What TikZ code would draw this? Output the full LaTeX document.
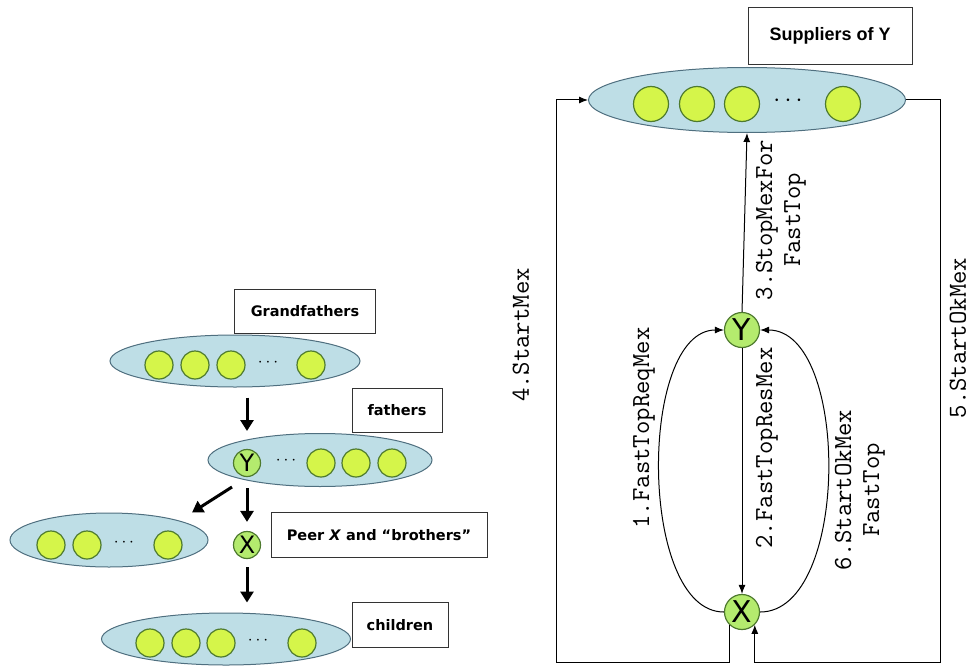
\documentclass[tikz,border=0pt]{standalone}
\usepackage{fontspec}
\usetikzlibrary{shapes.geometric,arrows.meta,calc}
\newfontfamily\boxfont{DejaVu Sans}
\newfontfamily\supfont{Liberation Sans}
\definecolor{ellfill}{HTML}{BEDEE6}
\definecolor{ellline}{HTML}{4F6F7F}
\definecolor{peerfill}{HTML}{D5F54A}
\definecolor{peerline}{HTML}{4E7A2E}
\definecolor{mefill}{HTML}{B4EB6E}

\begin{document}
\begin{tikzpicture}[x=1pt,y=-1pt,
    group/.style={ellipse,draw=ellline,fill=ellfill,line width=1pt,inner sep=0pt},
    peer/.style={circle,draw=peerline,fill=peerfill,line width=1.2pt,minimum size=28pt,inner sep=0pt},
    me/.style={peer,fill=mefill,font=\boxfont\fontsize{24}{24}\selectfont},
    tag/.style={draw=black!80,fill=white,line width=0.8pt,inner sep=0pt,font=\boxfont\bfseries\fontsize{14.5}{16}\selectfont},
    bigarrow/.style={line width=3pt,-{Triangle[length=11pt,width=13pt]}},
    msg/.style={line width=1pt,-{Latex[length=9pt,width=7pt]}},
    msglabel/.style={rotate=90,font=\ttfamily\fontsize{26}{28}\selectfont,align=center,inner sep=0pt}]

    \useasboundingbox (0,0) rectangle (976,666);

    % left: the levels of the overlay
    \node[group,minimum width=250pt,minimum height=52pt] (gf) at (235,361) {};
    \foreach \x [count=\i] in {159,195,231,311}
        \node[peer] (gf\i) at (\x,365) {};
    \node[font=\fontsize{16}{16}\selectfont] (gfdots) at (268,363) {$\cdots$};

    \node[group,minimum width=224pt,minimum height=53pt] (fa) at (320,460) {};
    \node[me,minimum size=27pt] (fy) at (247,463) {Y};
    \foreach \x [count=\i] in {321,356,392}
        \node[peer] (fa\i) at (\x,463) {};
    \node[font=\fontsize{16}{16}\selectfont] (fadots) at (286,461) {$\cdots$};

    \node[group,minimum width=198pt,minimum height=54pt] (bro) at (109,540) {};
    \foreach \x [count=\i] in {51,87,168}
        \node[peer] (bro\i) at (\x,545) {};
    \node[font=\fontsize{16}{16}\selectfont] (brodots) at (124,543) {$\cdots$};

    \node[me,minimum size=27pt] (px) at (247,545) {X};

    \node[group,minimum width=249pt,minimum height=52pt] (ch) at (226,639) {};
    \foreach \x [count=\i] in {150,186,221,302}
        \node[peer] (ch\i) at (\x,643) {};
    \node[font=\fontsize{16}{16}\selectfont] (chdots) at (258,641) {$\cdots$};

    % left: labels
    \node[tag,minimum width=141pt,minimum height=44pt] (gftag) at (305,311) {Grandfathers};
    \node[tag,minimum width=90pt,minimum height=44pt] (fatag) at (397,410) {fathers};
    \node[tag,minimum width=216pt,minimum height=45pt] (pxtag) at (379,535) {Peer \textit{X} and “brothers”};
    \node[tag,minimum width=96pt,minimum height=45pt] (chtag) at (400,625) {children};

    % left: arrows
    \draw[bigarrow,shorten <=10pt,shorten >=2pt] (gf.south -| fy) -- (fa.north -| fy);
    \draw[bigarrow] ($(fy)+(-15,24)$) -- ($(bro.north)+(83,0)$);
    \draw[bigarrow,shorten <=1pt,shorten >=9pt] (fa.south -| fy) -- (px.north);
    \draw[bigarrow,shorten <=8pt,shorten >=10pt] (px.south) -- (ch.north -| px);

    % right: suppliers, Y and X
    \node[group,minimum width=317pt,minimum height=65pt] (sup) at (747,100) {};
    \foreach \x [count=\i] in {651,697,742,843}
        \node[peer,minimum size=35pt] (sup\i) at (\x,104) {};
    \node[font=\fontsize{24}{24}\selectfont] (supdots) at (788,101) {$\cdots$};
    \node[tag,minimum width=164pt,minimum height=57pt,font=\supfont\bfseries\fontsize{18}{20}\selectfont] (suptag) at (830,36) {Suppliers of Y};

    \node[me,minimum size=35pt,font=\boxfont\fontsize{30}{30}\selectfont] (ny) at (742,330) {Y};
    \node[me,minimum size=35pt,font=\boxfont\fontsize{30}{30}\selectfont] (nx) at (742,612) {X};

    \coordinate (lowleft) at (556,662);
    \coordinate (lowright) at (940,662);

    % right: messages
    \draw[msg] (nx.west) to[out=180,in=180,looseness=0.78] (ny.west);
    \draw[msg] (ny.south) -- (nx.north);
    \draw[msg] (ny.north) -- (sup.south);
    \draw[msg] (nx.-135) |- (lowleft) |- (sup.west);
    \draw[msg] (sup.east) -| (lowright) -| (nx.-45);
    \draw[msg] (nx.east) to[out=0,in=0,looseness=0.82] (ny.east);

    \node[msglabel] (m1) at (644,428) {1.FastTopReqMex};
    \node[msglabel] (m2) at (767,448) {2.FastTopResMex};
    \node[msglabel] (m3) at (781,220) {3.StopMexFor\\FastTop};
    \node[msglabel] (m4) at (521,335) {4.StartMex};
    \node[msglabel] (m5) at (958,338) {5.StartOkMex};
    \node[msglabel] (m6) at (860,490) {6.StartOkMex\\FastTop};
\end{tikzpicture}
\end{document}
